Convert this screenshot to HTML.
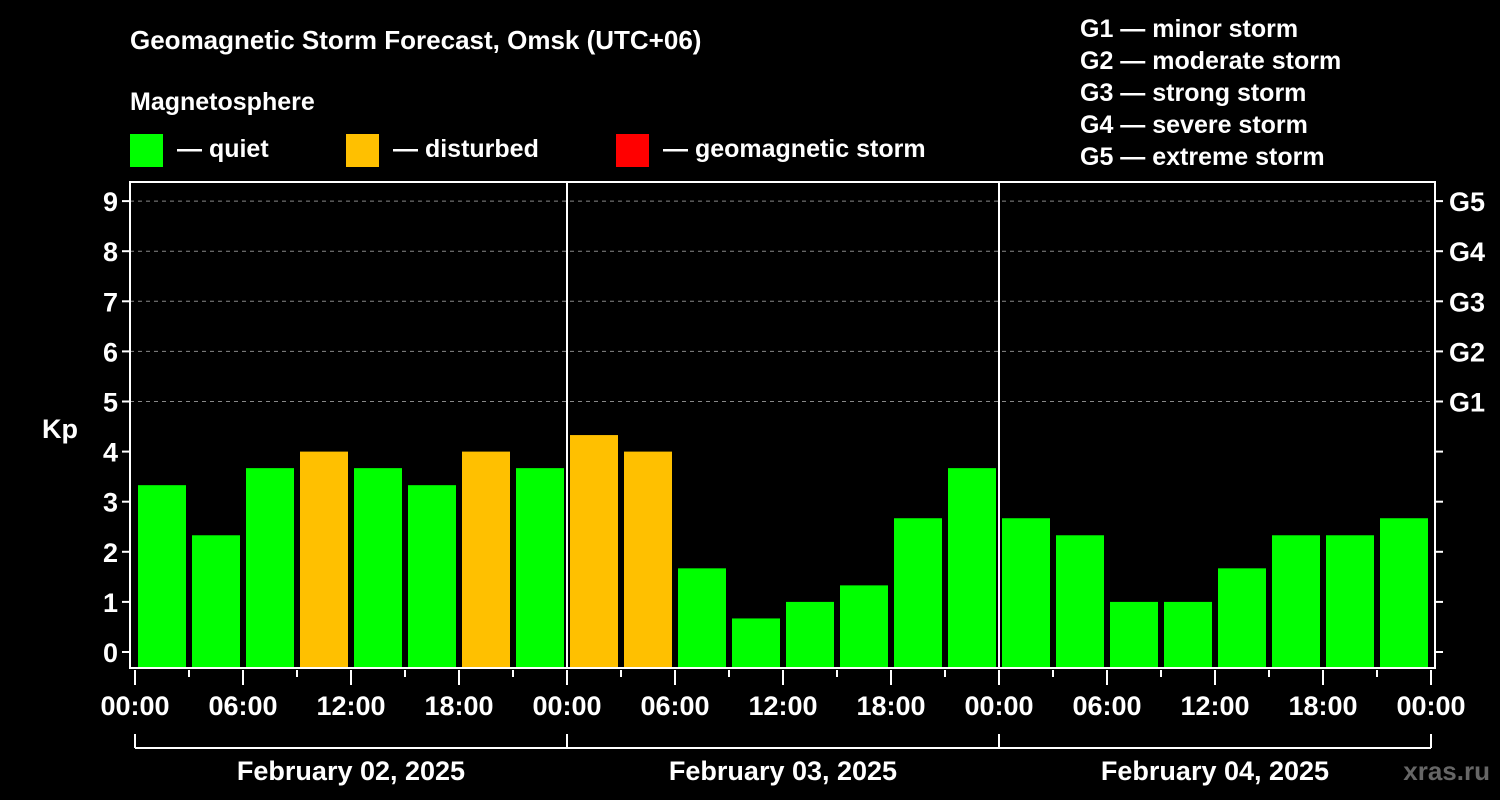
<!DOCTYPE html>
<html><head><meta charset="utf-8"><style>
html,body{margin:0;padding:0;background:#000;}
svg{display:block;font-family:"Liberation Sans",Arial,sans-serif;font-weight:bold;}
</style></head><body>
<svg id="c" width="1500" height="800" viewBox="0 0 1500 800">
<rect width="1500" height="800" fill="#000"/>
<text x="130" y="49" fill="#fff" font-size="26">Geomagnetic Storm Forecast, Omsk (UTC+06)</text>
<text x="130" y="110" fill="#fff" font-size="25">Magnetosphere</text>
<g><rect x="130" y="134" width="33" height="33" fill="#00ff00"/><text x="177" y="157" fill="#fff" font-size="25">— quiet</text></g>
<g><rect x="346" y="134" width="33" height="33" fill="#ffc000"/><text x="393" y="157" fill="#fff" font-size="25">— disturbed</text></g>
<g><rect x="616" y="134" width="33" height="33" fill="#ff0000"/><text x="663" y="157" fill="#fff" font-size="25">— geomagnetic storm</text></g>
<g fill="#fff" font-size="25">
<text x="1080" y="37">G1 — minor storm</text>
<text x="1080" y="69">G2 — moderate storm</text>
<text x="1080" y="101">G3 — strong storm</text>
<text x="1080" y="133">G4 — severe storm</text>
<text x="1080" y="165">G5 — extreme storm</text>
</g>
<text x="42" y="438" fill="#fff" font-size="27">Kp</text>
<text x="1490" y="780" fill="#666" font-size="26" text-anchor="end">xras.ru</text>
<g id="plot"></g>
</svg>
<script>
const kpValues=[3.33,2.33,3.67,4,3.67,3.33,4,3.67, 4.33,4,1.67,0.67,1,1.33,2.67,3.67, 2.67,2.33,1,1,1.67,2.33,2.33,2.67];
const dayLabels=["February 02, 2025","February 03, 2025","February 04, 2025"];
const yTicks=[0,1,2,3,4,5,6,7,8,9];
const gLabels=["G1","G2","G3","G4","G5"];
const gLevels=[5,6,7,8,9];
const hourLabels=["00:00","06:00","12:00","18:00"];

const NS="http://www.w3.org/2000/svg";
const g=document.getElementById('plot');
const X0=135,SLOT=54,PL=130,PR=1435,PT=182,PB=668;
const y=v=>652-50.1*v;
const x=i=>X0+i*SLOT;
function mk(t,a,p){const e=document.createElementNS(NS,t);for(const k in a)e.setAttribute(k,a[k]);(p||g).appendChild(e);return e;}
// gridlines
gLevels.forEach(v=>{
 const l=mk('line',{x1:PL,x2:PR,y1:y(v),y2:y(v),stroke:'#888','stroke-dasharray':'4,4','stroke-width':1});
 
 
});
// bars
kpValues.forEach((v,i)=>{
 const col=v>=5?'#ff0000':(v>=4?'#ffc000':'#00ff00');
 const r=mk('rect',{x:x(i)+3,y:y(v),width:48,height:PB-y(v),fill:col});
 
 
});
// frame
const fr=mk('rect',{x:PL,y:PT,width:PR-PL,height:PB-PT,fill:'none',stroke:'#fff','stroke-width':2});


// day dividers
for(let d=1;d<dayLabels.length;d++){
 const l=mk('line',{x1:x(d*8),x2:x(d*8),y1:PT,y2:PB,stroke:'#fff','stroke-width':2});
 
 
}
// y ticks
yTicks.forEach(v=>{
 mk('line',{x1:PL-8,x2:PL,y1:y(v),y2:y(v),stroke:'#fff','stroke-width':2});
 mk('line',{x1:PR,x2:PR+8,y1:y(v),y2:y(v),stroke:'#fff','stroke-width':2});
 const t=mk('text',{x:PL-12,y:y(v)+10,fill:'#fff','font-size':27,'text-anchor':'end'});
 t.textContent=v;
 
 
});
gLabels.forEach((s,i)=>{
 const t=mk('text',{x:1449,y:y(gLevels[i])+10,fill:'#fff','font-size':27});
 t.textContent=s;
 
 
});
// x ticks
for(let i=0;i<=kpValues.length;i++){
 const major=i%2===0;
 mk('line',{x1:x(i),x2:x(i),y1:PB+2,y2:PB+(major?17:9),stroke:'#fff','stroke-width':2});
 if(major){
  const t=mk('text',{x:x(i),y:715,fill:'#fff','font-size':27,'text-anchor':'middle'});
  t.textContent=hourLabels[(i/2)%4];
  
  
 }
}
// day brackets
mk('line',{x1:x(0),x2:x(kpValues.length),y1:748,y2:748,stroke:'#fff','stroke-width':2});
for(let d=0;d<=dayLabels.length;d++) mk('line',{x1:x(d*8),x2:x(d*8),y1:734,y2:748,stroke:'#fff','stroke-width':2});
dayLabels.forEach((s,d)=>{
 const t=mk('text',{x:x(d*8)+216,y:780,fill:'#fff','font-size':27,'text-anchor':'middle'});
 t.textContent=s;
 
 
});
</script>
</body></html>
